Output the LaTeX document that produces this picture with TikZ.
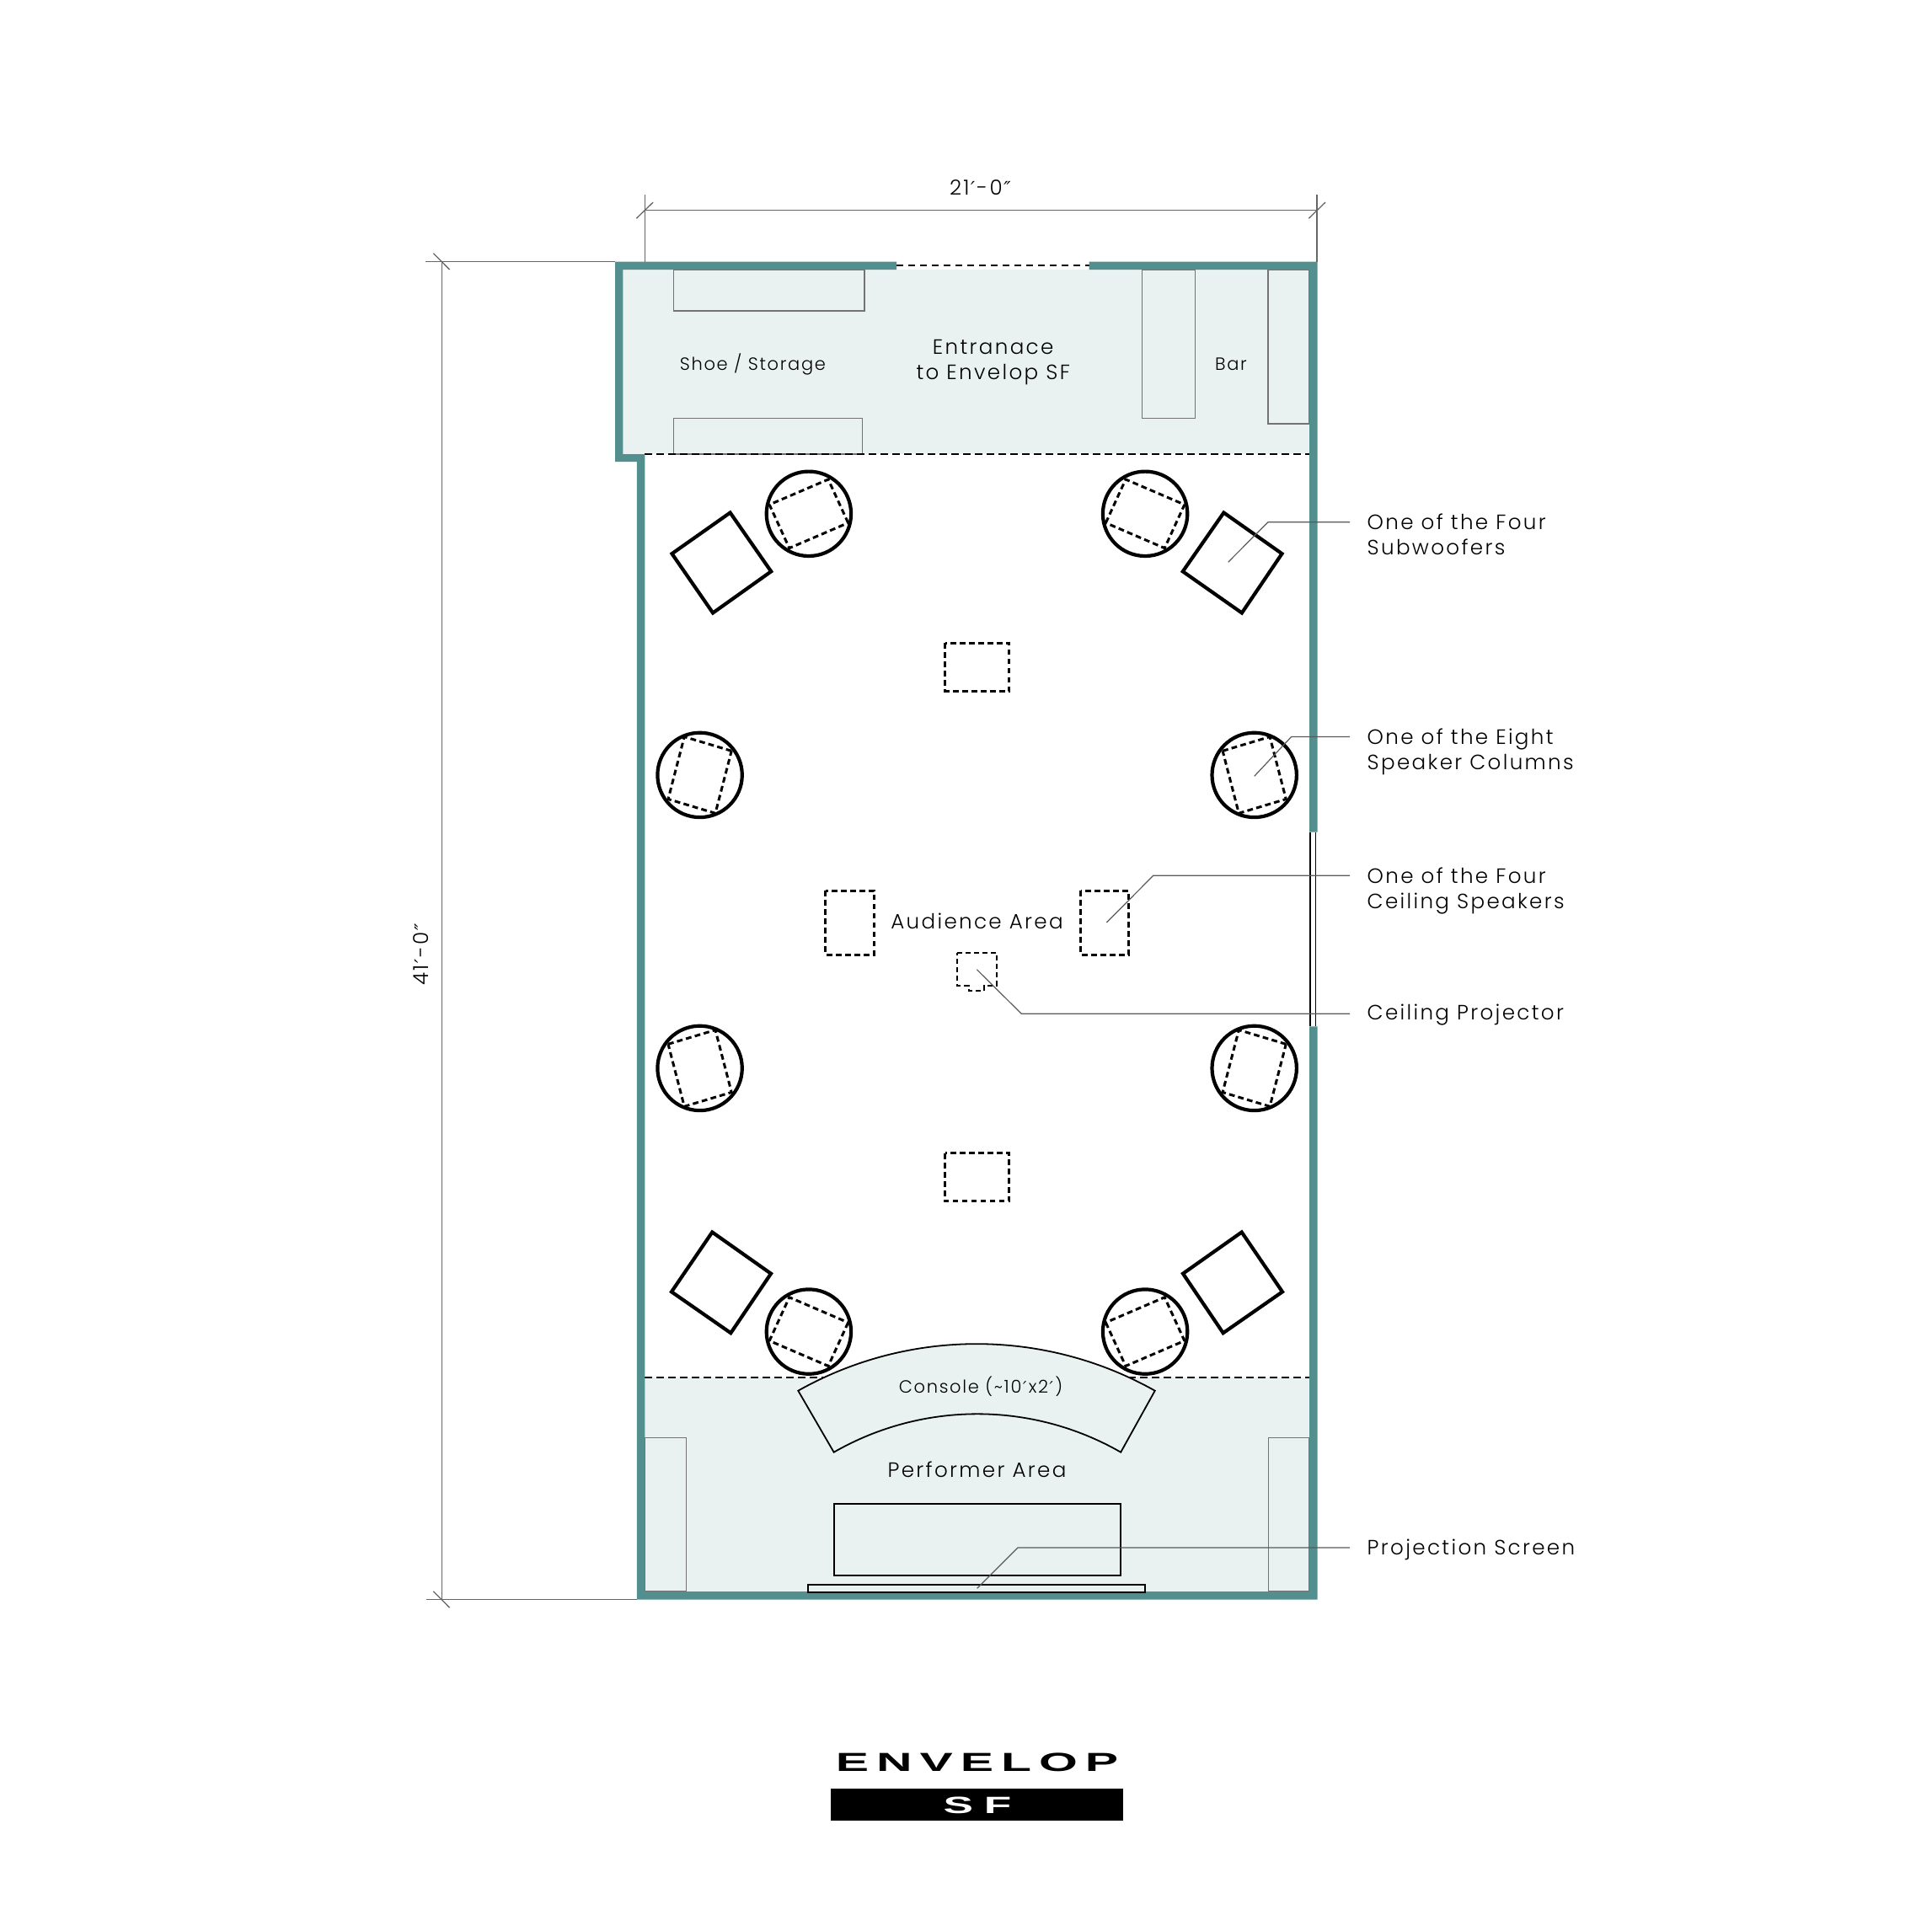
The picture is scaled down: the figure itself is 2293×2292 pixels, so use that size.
\documentclass[tikz,border=0pt]{standalone}
\usepackage{fontspec}
\setmainfont{Poppins Light}[LetterSpace=8]
\newfontfamily\logofont{Liberation Sans Bold}[FakeStretch=1.9,LetterSpace=29]
\newfontfamily\primefont{DejaVu Sans}
\newcommand{\ftmark}{\kern0.8pt{\primefont\itshape\scalebox{0.9}{′}}\kern1.2pt}
\newcommand{\inmark}{\kern0.8pt{\primefont\itshape\scalebox{0.9}{″}}}
\definecolor{wallteal}{HTML}{548F8F}
\definecolor{floortint}{HTML}{EAF2F1}
\tikzset{
  wall/.style={fill=wallteal},
  floorzone/.style={fill=floortint},
  furniture/.style={draw=black!55,line width=0.65pt},
  solidpiece/.style={draw=black,line width=2.1pt,line join=miter},
  dashedpiece/.style={draw=black,line width=1.5pt,dash pattern=on 3.4pt off 2.1pt},
  boundary/.style={draw=black,line width=1.1pt,dash pattern=on 4.2pt off 2.8pt},
  dimline/.style={draw=black!60,line width=0.65pt},
  leader/.style={draw=black!65,line width=0.6pt},
  bigtext/.style={inner sep=0pt,outer sep=0pt,font=\fontsize{12.3}{15}\selectfont\addfontfeature{LetterSpace=9.5},text=black},
  smalltext/.style={inner sep=0pt,outer sep=0pt,font=\fontsize{10.5}{13}\selectfont,text=black}
}
\begin{document}
\begin{tikzpicture}[x=0.5pt,y=-0.5pt]
\useasboundingbox (0,0) rectangle (2293,2292);
\fill[floorzone] (739.4,320) rectangle (1554,539);
\fill[floorzone] (765.3,1635) rectangle (1554,1889);
\draw[furniture] (799.2,320) rectangle (1026,369);
\draw[furniture] (799.2,496.5) rectangle (1023.3,539);
\draw[furniture] (1355.7,320) rectangle (1418.4,496.5);
\draw[furniture] (1505,320) rectangle (1553.8,503);
\draw[furniture] (765.2,1706.3) rectangle (814.6,1889);
\draw[furniture] (1505.2,1706.3) rectangle (1554,1889);
\draw[boundary] (1064,315) -- (1292.6,315);
\draw[boundary] (765.3,539) -- (1554,539);
\draw[boundary] (765.3,1635) -- (1554,1635);
\fill[wall] (730,310.5) -- (1064,310.5) -- (1064,320) -- (739.4,320) -- (739.4,539) -- (765.3,539) -- (765.3,1889) -- (1554,1889) -- (1554,1218.3) -- (1563.5,1218.3) -- (1563.5,1898.7) -- (755.9,1898.7) -- (755.9,548.2) -- (730,548.2) -- cycle;
\fill[wall] (1292.6,310.5) -- (1563.5,310.5) -- (1563.5,987.7) -- (1554,987.7) -- (1554,320) -- (1292.6,320) -- cycle;
\draw[black,line width=0.85pt] (1555.2,987.7) -- (1555.2,1218.3);
\draw[black,line width=0.85pt] (1561.6,987.7) -- (1561.6,1218.3);
\foreach \cx/\cy/\lx/\ly/\sx/\sy in {959.9/609.8/34.9/-15/11.8/25.8,1359.1/609.8/-34.9/-15/-11.8/25.8,959.9/1580.6/34.9/15/11.8/-25.8,1359.1/1580.6/-34.9/15/-11.8/-25.8,830.6/919.9/9.6/-37/28/8.4,1488.7/919.9/-9.6/-37/-28/8.4,830.6/1267.9/-9.6/-37/-28/8.4,1488.7/1267.9/9.6/-37/28/8.4} {
  \draw[solidpiece] (\cx,\cy) circle[radius=25.1pt];
  \draw[dashedpiece] ({\cx+\lx+\sx},{\cy+\ly+\sy}) -- ({\cx+\lx-\sx},{\cy+\ly-\sy}) -- ({\cx-\lx-\sx},{\cy-\ly-\sy}) -- ({\cx-\lx+\sx},{\cy-\ly+\sy}) -- cycle;
}
\draw[solidpiece] (866.6,608.5) -- (915.2,678.3) -- (846.1,727.5) -- (797.5,657.2) -- cycle;
\draw[solidpiece] (1452.4,608.5) -- (1521.5,657.2) -- (1473.9,727.5) -- (1403.8,678.3) -- cycle;
\draw[solidpiece] (845.3,1462.5) -- (915,1511.7) -- (867.3,1582.2) -- (797,1533.3) -- cycle;
\draw[solidpiece] (1473.7,1462.5) -- (1522,1533.3) -- (1451.7,1582.2) -- (1404,1511.7) -- cycle;
\draw[dashedpiece] (1121.7,763.4) rectangle (1197.7,820.4);
\draw[dashedpiece] (1121.7,1368.8) rectangle (1197.7,1425.9);
\draw[dashedpiece] (979.7,1057) rectangle (1037.1,1133);
\draw[dashedpiece] (1282.7,1057) rectangle (1339.4,1133);
\draw[draw=black,line width=0.85pt,dash pattern=on 3pt off 2pt] (1136,1131) -- (1182.7,1131) -- (1182.7,1170) -- (1168.3,1170) -- (1168.3,1176) -- (1150,1176) -- (1150,1170) -- (1136,1170) -- cycle;
\draw[draw=black,line width=0.9pt,fill=floortint] (947.3,1650.7) arc[start angle=119.4,end angle=60.6,radius=215.65pt] -- (1330.2,1723.7) arc[start angle=60.14,end angle=119.86,radius=171pt] -- cycle;
\draw[draw=black,line width=1pt] (989.6,1785.3) rectangle (1330.2,1870);
\draw[draw=black,line width=1pt] (959.4,1881) rectangle (1359.3,1890);
\coordinate (widthleft) at (765.3,249.6);
\coordinate (widthright) at (1563,249.6);
\coordinate (heighttop) at (524.2,310.5);
\coordinate (heightbottom) at (524.2,1898.7);
\draw[dimline] (widthleft) -- (widthright);
\draw[dimline] (765.3,231) -- (765.3,310.5);
\draw[dimline] (1563,231) -- (1563,310.5);
\draw[dimline] (755.4,259.2) -- (775.1,240.1);
\draw[dimline] (1553.4,259.2) -- (1573,240.1);
\draw[dimline] (heighttop) -- (heightbottom);
\draw[dimline] (505,310.5) -- (730,310.5);
\draw[dimline] (506,1898.7) -- (756,1898.7);
\draw[dimline] (514.4,300.6) -- (533.6,320);
\draw[dimline] (514.4,1888.8) -- (533.6,1908.2);
\coordinate (subtip) at (1457.7,667.2);
\coordinate (subknee) at (1505,619.7);
\coordinate (subend) at (1602.2,619.7);
\coordinate (coltip) at (1488.7,921.3);
\coordinate (colknee) at (1532.6,874.5);
\coordinate (colend) at (1602.2,874.5);
\coordinate (ceiltip) at (1313.3,1095);
\coordinate (ceilknee) at (1368.7,1039.3);
\coordinate (ceilend) at (1602.2,1039.3);
\coordinate (projtip) at (1159.3,1150.7);
\coordinate (projknee) at (1212.3,1203.3);
\coordinate (projend) at (1602.2,1203.3);
\coordinate (screentip) at (1159.6,1885.3);
\coordinate (screenknee) at (1207.9,1837);
\coordinate (screenend) at (1602.2,1837);
\draw[leader] (subtip) -- (subknee) -- (subend);
\draw[leader] (coltip) -- (colknee) -- (colend);
\draw[leader] (ceiltip) -- (ceilknee) -- (ceilend);
\draw[leader] (projtip) -- (projknee) -- (projend);
\draw[leader] (screentip) -- (screenknee) -- (screenend);
\node[bigtext,anchor=base] (widthlabel) at (1163.4,231) {2\kern1pt 1\ftmark-0\inmark};
\node[bigtext,anchor=base,rotate=90] (heightlabel) at (508,1133) {4\kern1pt 1\ftmark-0\inmark};
\node[bigtext,anchor=base] (entrylabel) at (1178.7,420.3) {Entranace};
\node[bigtext,anchor=base] (entrylabelb) at (1178.7,450) {to Envelop SF};
\node[smalltext,anchor=base] (shoelabel) at (893.4,439.5) {Shoe / Storage};
\node[smalltext,anchor=base] (barlabel) at (1461,439.5) {Bar};
\node[bigtext,anchor=base] (audiencelabel) at (1159.5,1102.7) {Audience Area};
\node[smalltext,anchor=base] (consolelabel) at (1164,1653) {Console (\textasciitilde 10\ftmark x2\ftmark)};
\node[bigtext,anchor=base] (performerlabel) at (1159.5,1753.7) {Performer Area};
\node[bigtext,anchor=base west] (sublabel) at (1622.7,628) {One of the Four};
\node[bigtext,anchor=base west] (sublabelb) at (1622.7,658) {Subwoofers};
\node[bigtext,anchor=base west] (collabel) at (1622.7,883) {One of the Eight};
\node[bigtext,anchor=base west] (collabelb) at (1622.7,913) {Speaker Columns};
\node[bigtext,anchor=base west] (ceillabel) at (1622.7,1048.7) {One of the Four};
\node[bigtext,anchor=base west] (ceillabelb) at (1622.7,1078.7) {Ceiling Speakers};
\node[bigtext,anchor=base west] (projlabel) at (1622.7,1210) {Ceiling Projector};
\node[bigtext,anchor=base west] (screenlabel) at (1622.7,1845) {Projection Screen};
\node[inner sep=0pt,anchor=base,font=\logofont\fontsize{15.5}{15.5}\selectfont] (logotop) at (1159.5,2102.7) {ENVELOP};
\fill[black] (985.7,2123.3) rectangle (1333,2160.7);
\node[inner sep=0pt,anchor=base,text=white,font=\logofont\fontsize{14}{14}\selectfont\addfontfeature{LetterSpace=45}] (logosf) at (1160,2152.7) {SF};
\end{tikzpicture}
\end{document}
